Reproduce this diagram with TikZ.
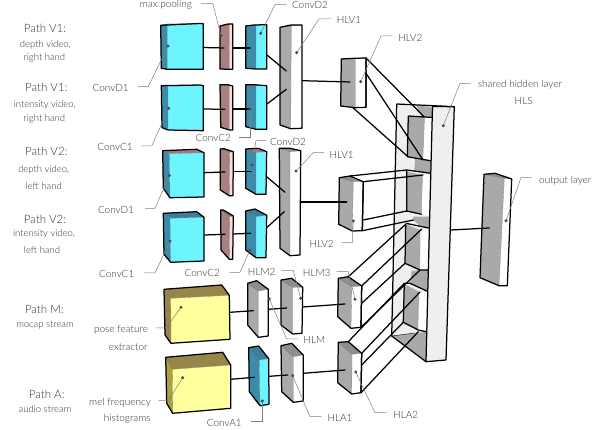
\documentclass[tikz,border=0pt]{standalone}
\usepackage{fontspec}
\setmainfont{Lato Light}
\usepackage{tikz}
\usetikzlibrary{calc}

% face colours: f front, s side, t top
\definecolor{convf}{HTML}{6CF5FF}
\definecolor{convs}{HTML}{3B8CAB}
\definecolor{convt}{HTML}{3B7F9C}
\definecolor{convrf}{HTML}{6CF5FF}
\definecolor{convrs}{HTML}{3B8CAB}
\definecolor{convrt}{HTML}{A07C7C}
\definecolor{poolf}{HTML}{FFD9D9}
\definecolor{pools}{HTML}{A88080}
\definecolor{poolt}{HTML}{8C6A6A}
\definecolor{hidf}{HTML}{FFFFFF}
\definecolor{hids}{HTML}{A9A9A9}
\definecolor{hidt}{HTML}{8E8E8E}
\definecolor{feaf}{HTML}{FFFF9E}
\definecolor{feas}{HTML}{978649}
\definecolor{feat}{HTML}{978649}
\definecolor{melf}{HTML}{FFFF9E}
\definecolor{mels}{HTML}{ABA23C}
\definecolor{melt}{HTML}{978649}
\definecolor{slabf}{HTML}{EFEFEF}
\definecolor{labelgray}{HTML}{333333}

\tikzset{
    outline/.style={draw=black, line width=1.25pt, line join=round},
    link/.style={draw=black, line width=1.25pt, line cap=round},
    leader/.style={draw=gray, line width=0.5pt},
    pathtitle/.style={text=labelgray, font=\fontsize{11.5}{13}\selectfont, inner sep=0pt},
    pathtext/.style={text=labelgray, font=\fontsize{9.5}{11}\selectfont, inner sep=0pt},
    calltext/.style={text=labelgray, font=\fontsize{10}{12}\selectfont, inner sep=0pt}
}

% name, colours, back: tl tr bl, front: tl tr br bl
\newcommand{\layerbox}[9]{
    \coordinate (#1-b1) at #3;
    \coordinate (#1-b2) at #4;
    \coordinate (#1-b3) at #5;
    \coordinate (#1-f1) at #6;
    \coordinate (#1-f2) at #7;
    \coordinate (#1-f3) at #8;
    \coordinate (#1-f4) at #9;
    \fill[#2s] (#1-b1) -- (#1-f1) -- (#1-f4) -- (#1-b3) -- cycle;
    \fill[#2t] (#1-b1) -- (#1-b2) -- (#1-f2) -- (#1-f1) -- cycle;
    \fill[#2f] (#1-f1) -- (#1-f2) -- (#1-f3) -- (#1-f4) -- cycle;
    \draw[black!55, line width=0.3pt] (#1-b1) -- (#1-f1) -- (#1-f2) (#1-f1) -- (#1-f4);
    \draw[outline] (#1-b1) -- (#1-b2) -- (#1-f2) -- (#1-f3) -- (#1-f4) -- (#1-b3) -- cycle;
}

% name, dot, elbow, leader end, text position, text
\newcommand{\callout}[6]{
    \coordinate (#1-dot) at #2;
    \coordinate (#1-elbow) at #3;
    \coordinate (#1-end) at #4;
    \node[calltext] (#1-label) at #5 {#6};
    \draw[leader] (#1-dot) -- (#1-elbow) -- (#1-end);
    \fill[black!70] (#1-dot) circle (1.7pt);
}

\begin{document}
\begin{tikzpicture}[x=1pt, y=-1pt]
    \useasboundingbox (0, 0) rectangle (598, 430);

    % Shared hidden layer, back part
    \coordinate (hls-b1) at (396.7, 104);
    \coordinate (hls-b3) at (391.7, 336);
    \coordinate (hls-f1) at (432.5, 106.5);
    \coordinate (hls-f2) at (454.3, 106.7);
    \coordinate (hls-f3) at (446, 360);
    \coordinate (hls-f4) at (426, 361.7);
    \fill[slabf] (hls-b1) -- (hls-f1) -- (hls-f4) -- (hls-b3) -- cycle;

    % Openings in the side of the slab
    \fill[hids] (416, 105) -- (433, 107.5) -- (433, 117.5) -- (423, 117.5) -- cycle;
    \fill[hids] (408.3, 116) -- (425, 117.3) -- (423.3, 159) -- (407.3, 156.7) -- cycle;
    \fill[white] (425, 117.3) -- (433, 117.5) -- (432, 160.3) -- (423.3, 159) -- cycle;
    \fill[hids] (415, 159) -- (432, 161) -- (431, 173.3) -- (414.3, 171.7) -- cycle;
    \fill[hids] (407, 171.7) -- (423, 175) -- (421.7, 214.3) -- (407, 211) -- cycle;
    \fill[white] (423, 175) -- (431, 175) -- (430, 216) -- (421.7, 214.3) -- cycle;
    \fill[hids] (413.3, 216.7) -- (430, 216.7) -- (430, 228.3) -- (420, 225.7) -- (413, 220) -- cycle;
    \fill[hids] (405.7, 224.3) -- (420, 230) -- (420, 270) -- (405, 263.3) -- cycle;
    \fill[white] (421.7, 229) -- (430, 228.3) -- (428.3, 270) -- (420, 270) -- cycle;
    \fill[hids] (420, 270) -- (428.3, 270) -- (428.3, 291.7) -- (410, 283.3) -- (411.7, 271) -- cycle;
    \fill[hids] (404.3, 284) -- (419, 291.7) -- (418.3, 330) -- (403.3, 322.3) -- cycle;
    \fill[white] (420, 292.7) -- (427.7, 292.7) -- (426, 331.7) -- (418.3, 330) -- cycle;
    \fill[hids] (hls-b3) -- (415, 333) -- (426.5, 332) -- (hls-f4) -- cycle;

    % Inner edges of the openings
    \draw[outline] (408.3, 116) -- (433, 117.5);
    \draw[outline] (408.3, 116) -- (407.3, 156.7) -- (432, 161);
    \draw[outline] (406.7, 170) -- (431, 173.3);
    \draw[outline] (406.7, 171) -- (406.7, 211) -- (421.7, 214.3);
    \draw[outline] (405.7, 223.3) -- (430, 228.3);
    \draw[outline] (405.7, 224.3) -- (405, 263.3) -- (420, 270) -- (428.3, 270);
    \draw[outline] (404.3, 283.3) -- (410, 283.3) -- (428.3, 291.7);
    \draw[outline] (404.3, 283.3) -- (403.3, 322.3) -- (418.3, 330) -- (426, 331.7);
    \draw[black, line width=0.4pt] (hls-b3) -- (415, 333);

    % Side of the slab
    \draw[outline] (hls-b1) -- (hls-b3) -- (hls-f4);
    \draw[outline] (hls-b1) -- (hls-f2);

    % Layers of the top two paths
    \layerbox{convda}{conv}{(160.7, 25.3)}{(200, 23.5)}{(161.3, 68.3)}{(167.3, 24)}{(203.3, 23.7)}{(203.3, 69.3)}{(167.3, 69.3)}
    \layerbox{poola}{pool}{(220, 26)}{(228, 24)}{(220, 69)}{(229.3, 24.3)}{(232.7, 24)}{(232.7, 69.3)}{(229.3, 69.3)}
    \layerbox{convdb}{conv}{(245.7, 26)}{(254, 25)}{(245.7, 68.3)}{(256, 25)}{(266.7, 24.7)}{(266.7, 69)}{(256, 69)}
    \layerbox{hlva}{hid}{(280, 27.3)}{(291, 25)}{(280, 125)}{(291.3, 26)}{(302, 25)}{(302, 128.3)}{(290.7, 128.7)}
    \layerbox{convca}{conv}{(161.3, 85.7)}{(200, 85)}{(162, 127.7)}{(168, 86)}{(203.3, 85.7)}{(203.3, 130.7)}{(168, 130)}
    \layerbox{poolb}{pool}{(220, 84.7)}{(228, 84.7)}{(220.7, 127.3)}{(229.3, 86)}{(232.7, 86)}{(232.7, 130)}{(229.3, 130)}
    \layerbox{convcb}{conv}{(245.7, 84.7)}{(254, 84.7)}{(245.7, 126.7)}{(256, 85.7)}{(266.7, 85.7)}{(266.7, 129.3)}{(256, 129.3)}
    \layerbox{hlvb}{hid}{(341.3, 59)}{(354, 58.3)}{(340.7, 106)}{(355.3, 58.7)}{(366, 58)}{(366, 107.3)}{(355.3, 107.7)}

    % Layers of the next two paths
    \layerbox{convdc}{convr}{(162.7, 150.7)}{(196.7, 149.3)}{(163.3, 188.3)}{(169.3, 153.7)}{(204, 152.7)}{(204, 197)}{(170, 197.7)}
    \layerbox{poolc}{pool}{(220.3, 149)}{(224, 148.7)}{(220.3, 190)}{(229.7, 152.3)}{(233.3, 151.7)}{(233, 195.7)}{(229.3, 195.7)}
    \layerbox{convdd}{convr}{(245.7, 149)}{(258.3, 148.3)}{(245.7, 188.3)}{(256, 152.3)}{(266.7, 151.7)}{(266, 194.3)}{(256, 194.3)}
    \layerbox{hlvc}{hid}{(279.3, 148.3)}{(290, 148.3)}{(280, 248.3)}{(290, 151.7)}{(300.7, 150.7)}{(300, 255)}{(290, 255.7)}
    \layerbox{convcc}{conv}{(163.3, 213.3)}{(196.7, 211.7)}{(164, 254.3)}{(170, 218.3)}{(204, 217.3)}{(204, 261)}{(170.7, 262.3)}
    \layerbox{poold}{pool}{(220.7, 210)}{(223.3, 210)}{(221, 250)}{(229.7, 216.7)}{(233.3, 216)}{(232.7, 259.3)}{(229.3, 259.3)}
    \layerbox{convcd}{conv}{(245.7, 211)}{(255, 209)}{(245.7, 250)}{(256, 216.7)}{(266.7, 215.3)}{(266, 257.7)}{(256, 257.7)}
    \layerbox{hlvd}{hid}{(339.3, 177.7)}{(350, 176)}{(338.7, 224.3)}{(353.3, 181.7)}{(363.3, 181.7)}{(362.3, 230.7)}{(352.3, 231)}

    % Layers of the mocap and audio paths
    \layerbox{fea}{fea}{(164, 289.3)}{(221.7, 285)}{(165, 335)}{(170.7, 298.3)}{(229.3, 295.3)}{(230, 339.3)}{(171, 343.3)}
    \layerbox{hlma}{hid}{(247.7, 283.3)}{(256.7, 280.7)}{(247.7, 325)}{(258.3, 291)}{(268.3, 289.3)}{(268.3, 336)}{(258.3, 337.3)}
    \layerbox{hlmb}{hid}{(281, 280)}{(291.7, 278.3)}{(281, 325)}{(292.7, 287.3)}{(302.7, 287.3)}{(302, 333.3)}{(292.7, 334)}
    \layerbox{hlmc}{hid}{(338.3, 278.3)}{(348.3, 276.7)}{(337.7, 316.7)}{(351.7, 286.7)}{(361.7, 286)}{(361, 327.3)}{(351, 328.3)}
    \layerbox{mel}{mel}{(165.7, 357.3)}{(222.7, 352.3)}{(166.7, 403.3)}{(172.3, 369.3)}{(230.7, 365)}{(230.7, 408.3)}{(172.7, 413.3)}
    \layerbox{conva}{conv}{(248.7, 347.7)}{(258.7, 346)}{(249.3, 391.7)}{(259.3, 360)}{(268.7, 358.7)}{(269, 404.3)}{(260, 405.7)}
    \layerbox{hlaa}{hid}{(281, 345.7)}{(291.7, 343.3)}{(281.7, 391.7)}{(293.3, 356.7)}{(303.3, 355)}{(303.3, 401)}{(293.3, 402.3)}
    \layerbox{hlab}{hid}{(338.3, 342.3)}{(348.3, 341.7)}{(337.7, 382.7)}{(352, 354.3)}{(361.7, 353.3)}{(361, 392.7)}{(351.7, 394)}

    % Output layer
    \layerbox{out}{hid}{(484, 174.3)}{(495, 173.3)}{(480, 277.7)}{(504.3, 178.3)}{(511.7, 179)}{(507.3, 285.7)}{(499, 285.7)}

    % Front of the slab
    \fill[slabf, outline] (hls-f1) -- (hls-f2) -- (hls-f3) -- (hls-f4) -- cycle;

    % Ends of the bundles entering the slab
    \coordinate (toa) at (424, 116.7);
    \coordinate (tob) at (423, 160);
    \coordinate (toc) at (408, 156.7);
    \coordinate (hlvb-mid) at (366, 73.3);
    \coordinate (hlvb-low) at (352.7, 107.5);
    \coordinate (tod) at (406.7, 170);
    \coordinate (toe) at (423, 175);
    \coordinate (tof) at (406.7, 211);
    \coordinate (tog) at (413.3, 220);
    \coordinate (hlvd-mid) at (363.3, 220);
    \coordinate (toh) at (405.7, 224.3);
    \coordinate (toi) at (421.7, 229);
    \coordinate (toj) at (405, 263.3);
    \coordinate (tok) at (420, 270);
    \coordinate (hlmc-mid) at (361.7, 303.3);
    \coordinate (tol) at (404.3, 283.3);
    \coordinate (tom) at (420, 292);
    \coordinate (ton) at (403.3, 322.3);
    \coordinate (too) at (418.3, 331.7);
    \coordinate (hlab-mid) at (361.7, 365);
    \foreach \a/\b in {hlvb-f2/toa, hlvb-mid/tob, hlvb-low/toc,
        hlvd-b2/tod, hlvd-f2/toe, hlvd-mid/tof, hlvd-f3/tog,
        hlmc-b2/toh, hlmc-f2/toi, hlmc-mid/toj, hlmc-f3/tok,
        hlab-b2/tol, hlab-f2/tom, hlab-mid/ton, hlab-f3/too}
        \draw[link] (\a) -- (\b);
    \draw[outline] (hlvb-f2) -- (hlvb-f3) (hlvd-f2) -- (hlvd-f3) (hlmc-f2) -- (hlmc-f3) (hlab-f2) -- (hlab-f3);

    % Connections between layers
    \coordinate (la) at (203.3, 47.5);  \coordinate (lb) at (224, 48);
    \coordinate (lc) at (233, 48);      \coordinate (ld) at (250, 48);
    \coordinate (le) at (267, 55);      \coordinate (lf) at (286.3, 71);
    \coordinate (lg) at (267, 104);     \coordinate (lh) at (286.3, 89.3);
    \coordinate (li) at (203.3, 109);   \coordinate (lj) at (224.7, 109.3);
    \coordinate (lk) at (233, 109);     \coordinate (ll) at (250, 109);
    \coordinate (lm) at (302, 80.7);    \coordinate (ln) at (350, 82);
    \coordinate (ma) at (204, 172.7);   \coordinate (mb) at (225, 172);
    \coordinate (mc) at (233.3, 171.7); \coordinate (md) at (250.7, 171.7);
    \coordinate (me) at (266.7, 176.7); \coordinate (mf) at (285, 192.3);
    \coordinate (mg) at (266.7, 227.7); \coordinate (mh) at (284.3, 211.7);
    \coordinate (mi) at (204.7, 235);   \coordinate (mj) at (225, 234.3);
    \coordinate (mk) at (233.3, 234);   \coordinate (ml) at (250.7, 233.3);
    \coordinate (mm) at (300.7, 202);   \coordinate (mn) at (346.7, 202);
    \coordinate (na) at (230, 312.3);   \coordinate (nb) at (253.3, 310.7);
    \coordinate (nc) at (268.3, 309.3); \coordinate (nd) at (286.7, 308);
    \coordinate (ne) at (302.7, 307);   \coordinate (nf) at (345, 304);
    \coordinate (oa) at (230.7, 379.3); \coordinate (ob) at (254.3, 377.3);
    \coordinate (oc) at (269.3, 376.3); \coordinate (od) at (287.7, 375);
    \coordinate (oe) at (303.3, 373.3); \coordinate (of) at (345, 370);
    \coordinate (pa) at (450.7, 230);   \coordinate (pb) at (489.3, 228);
    \foreach \a/\b in {la/lb, lc/ld, le/lf, lg/lh, li/lj, lk/ll, lm/ln,
        ma/mb, mc/md, me/mf, mg/mh, mi/mj, mk/ml, mm/mn,
        na/nb, nc/nd, ne/nf, oa/ob, oc/od, oe/of, pa/pb}
        \draw[link] (\a) -- (\b);

    % Labels with leaders
    \callout{maxpool}{(221, 35.7)}{(212.7, 3.3)}{(201, 3.3)}{(166, 5)}{max pooling}
    \callout{dtwoa}{(260.7, 33.3)}{(275, 4.7)}{(286, 4.7)}{(310, 5)}{ConvD2}
    \callout{vonea}{(296.7, 52.7)}{(319, 19)}{(331, 19)}{(349, 19.5)}{HLV1}
    \callout{vtwoa}{(360.7, 81.7)}{(381, 36)}{(392.3, 36)}{(410.3, 38)}{HLV2}
    \callout{hls}{(443.3, 125.7)}{(460, 83.3)}{(470.7, 83.3)}{(520, 84.7)}{shared hidden layer}
    \node[calltext] (hls-name) at (523.7, 100.7) {HLS};
    \callout{outlayer}{(506, 220.7)}{(521, 177.7)}{(531.7, 177.7)}{(565.3, 180.3)}{output layer}
    \callout{done}{(168, 46)}{(148.3, 86.7)}{(138, 86.7)}{(110.7, 88)}{ConvD1}
    \callout{cone}{(168.7, 108.3)}{(151.7, 146)}{(141.3, 146)}{(115, 147.3)}{ConvC1}
    \callout{ctwoa}{(250, 109)}{(250, 137)}{(239.3, 137)}{(213.3, 138.3)}{ConvC2}
    \callout{dtwob}{(252, 165)}{(256, 140.3)}{(266.7, 140.3)}{(288, 141.5)}{ConvD2}
    \callout{voneb}{(296, 171)}{(313.3, 152.7)}{(324.3, 152.7)}{(341.7, 154.7)}{HLV1}
    \callout{dtwoc}{(169.3, 175.7)}{(155, 208.3)}{(145, 208.3)}{(116, 210)}{ConvD1}
    \callout{conb}{(170, 241)}{(155, 273)}{(144, 273)}{(116.7, 274.3)}{ConvC1}
    \callout{ctwob}{(250, 250)}{(240, 272.3)}{(229.3, 272.3)}{(202.3, 273.3)}{ConvC2}
    \callout{hlmtwo}{(300.7, 298.3)}{(293.3, 270.5)}{(281.7, 270.5)}{(261.7, 271.7)}{HLM2}
    \callout{hlmone}{(269.3, 299)}{(286.7, 339)}{(297.3, 339)}{(314.3, 340.3)}{HLM}
    \callout{hlmthree}{(355, 299.3)}{(348.3, 271.7)}{(336.7, 271.7)}{(316.7, 273.3)}{HLM3}
    \callout{vtwob}{(353.3, 221)}{(352.3, 242.7)}{(341.7, 242.7)}{(321.7, 244.3)}{HLV2}
    \callout{hlaone}{(292.7, 375.7)}{(310, 416.7)}{(321.7, 416.7)}{(340, 418.3)}{HLA1}
    \callout{hlatwo}{(355.7, 372)}{(375, 412.7)}{(386.7, 412.7)}{(405.7, 415)}{HLA2}
    \callout{aone}{(262.3, 401)}{(262.3, 421.7)}{(250.7, 421.7)}{(224.3, 423.3)}{ConvA1}
    \callout{pose}{(181, 307.3)}{(166, 328)}{(156, 328)}{(121, 330)}{pose feature}
    \node[calltext] (pose-name) at (128.3, 346.7) {extractor};
    \callout{melf}{(182.7, 377.7)}{(168.3, 400.7)}{(158.3, 400.7)}{(120, 402.7)}{mel frequency}
    \node[calltext] (melf-name) at (127.3, 418.7) {histograms};

    % Path names
    \node[pathtitle] (patha) at (45, 28.3) {Path V1:};
    \node[pathtext] (pathat) at (45.3, 45) {depth video,};
    \node[pathtext] (pathab) at (44.3, 58.3) {right hand};
    \node[pathtitle] (pathb) at (46.3, 87.3) {Path V1:};
    \node[pathtext] (pathbt) at (44.7, 105) {intensity video,};
    \node[pathtext] (pathbb) at (44.3, 119.3) {right hand};
    \node[pathtitle] (pathc) at (46.3, 151.7) {Path V2:};
    \node[pathtext] (pathct) at (43.7, 170) {depth video,};
    \node[pathtext] (pathcb) at (43.7, 185.7) {left hand};
    \node[pathtitle] (pathd) at (45, 219) {Path V2:};
    \node[pathtext] (pathdt) at (44, 234.3) {intensity video,};
    \node[pathtext] (pathdb) at (42, 250.3) {left hand};
    \node[pathtitle] (pathm) at (44.3, 309.3) {Path M:};
    \node[pathtext] (pathmt) at (45, 324.7) {mocap stream};
    \node[pathtitle] (pathn) at (46.7, 394.7) {Path A:};
    \node[pathtext] (pathnt) at (45, 409.3) {audio stream};
\end{tikzpicture}
\end{document}
